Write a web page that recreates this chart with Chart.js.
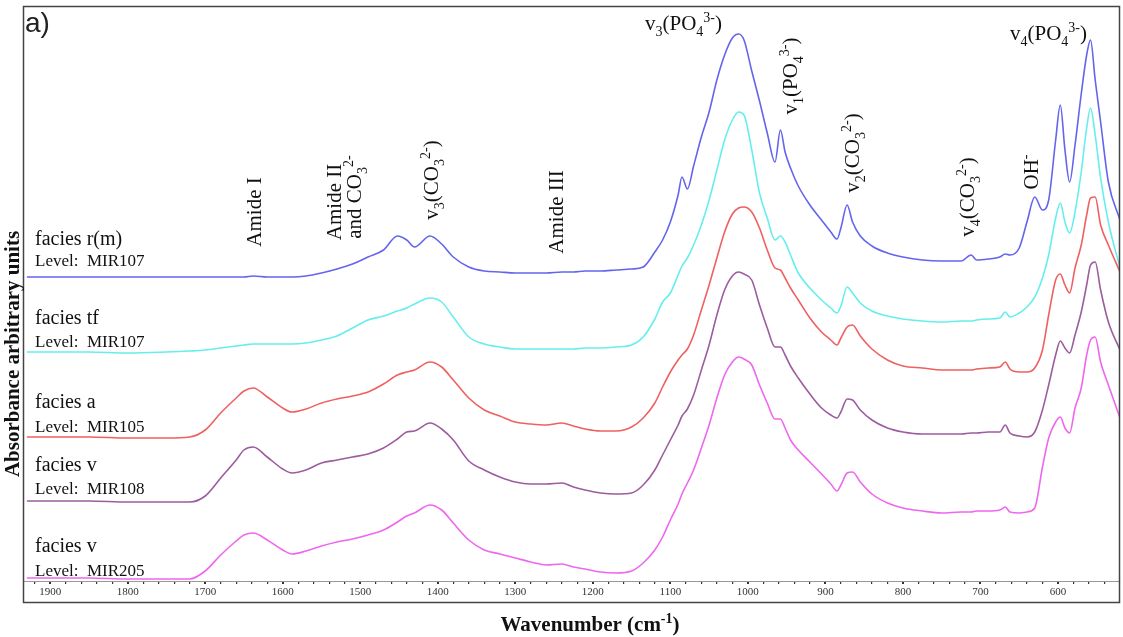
<!DOCTYPE html>
<html>
<head>
<meta charset="utf-8">
<script src="https://cdn.jsdelivr.net/npm/chart.js@4.4.0/dist/chart.umd.min.js"></script>
<style>
  html, body { margin: 0; padding: 0; background: #fff; }
  #wrap { width: 1123px; height: 637px; }
</style>
</head>
<body>
<div id="wrap"><canvas id="chart" width="1123" height="637"></canvas></div>
<script>
// ---------- data (absorbance, arbitrary units, stacked as in the figure) ----------
const wavenumbers = [
  1930, 1900, 1850, 1800, 1750, 1720, 1700, 1680, 1660, 1650,
  1638, 1620, 1600, 1588, 1570, 1550, 1530, 1510, 1490, 1470,
  1452, 1440, 1430, 1410, 1395, 1380, 1360, 1340, 1320, 1300,
  1280, 1260, 1240, 1225, 1210, 1190, 1170, 1150, 1135, 1120,
  1110, 1100, 1090, 1085, 1078, 1070, 1060, 1050, 1040, 1030,
  1020, 1012, 1005, 995, 985, 975, 965, 958, 952, 945,
  935, 920, 905, 893, 885, 880, 872, 865, 855, 840,
  820, 800, 775, 750, 725, 712, 705, 690, 675, 668,
  662, 650, 640, 630, 620, 612, 603, 597, 591, 585,
  578, 570, 563, 558, 552, 545, 535, 520
];

const faciesRm_MIR107 = [
  304, 304, 304, 304, 304, 304, 304, 304, 304, 304,
  305, 304, 304, 304, 305, 308, 312, 317, 324, 331,
  345, 341, 334, 345, 337, 324, 314, 310, 309, 308,
  308, 308, 309, 309, 310, 310, 311, 312, 314, 329,
  341, 359, 386, 404, 392, 415, 444, 469, 501, 526,
  543, 547, 541, 510, 480, 448, 419, 451, 429, 413,
  395, 376, 361, 349, 342, 353, 376, 359, 345, 335,
  328, 324, 321, 320, 320, 326, 321, 322, 324, 327,
  326, 333, 359, 384, 371, 381, 441, 476, 431, 399,
  436, 487, 526, 541, 501, 459, 399, 361
];

const faciesTf_MIR107 = [
  229, 229, 229, 228, 229, 230, 231, 233, 235, 236,
  237, 237, 237, 237, 238, 241, 245, 253, 261, 265,
  270, 273, 277, 283, 279, 264, 244, 237, 234, 232,
  232, 232, 232, 232, 233, 233, 234, 236, 244, 262,
  279, 288, 306, 315, 323, 336, 356, 381, 411, 441,
  461, 469, 466, 431, 388, 363, 341, 345, 339, 326,
  308, 293, 281, 273, 268, 275, 294, 288, 278, 270,
  265, 262, 260, 259, 260, 260, 261, 262, 263, 269,
  264, 268, 274, 284, 303, 326, 363, 378, 359, 348,
  369, 409, 453, 473, 446, 403, 359, 313
];

const faciesA_MIR105 = [
  144, 144, 144, 143, 143, 144, 151, 168, 183, 190,
  193, 184, 173, 169, 172, 178, 182, 185, 189, 197,
  206, 209, 211, 219, 214, 201, 183, 171, 165, 159,
  157, 156, 158, 155, 152, 150, 150, 154, 163, 178,
  194, 209, 221, 226, 232, 246, 271, 296, 323, 349,
  367, 373, 374, 369, 353, 331, 313, 311, 303, 293,
  281, 263, 249, 241, 236, 243, 254, 256, 245, 232,
  221, 215, 213, 211, 211, 211, 212, 213, 214, 219,
  212, 209, 209, 213, 231, 266, 301, 307, 296, 288,
  313, 336, 366, 383, 384, 356, 336, 309
];

const faciesV_MIR108 = [
  80, 80, 80, 79, 79, 79, 85, 103, 121, 131,
  134, 124, 112, 108, 111, 118, 121, 124, 127, 133,
  142, 149, 150, 158, 152, 141, 120, 111, 104, 99,
  97, 97, 98, 94, 91, 88, 87, 88, 96, 111,
  126, 141, 156, 165, 172, 186, 211, 236, 266, 291,
  305, 309, 307, 301, 276, 253, 234, 234, 226, 215,
  203, 187, 173, 166, 163, 169, 182, 181, 171, 161,
  153, 149, 147, 147, 147, 148, 148, 149, 149, 156,
  148, 145, 144, 149, 171, 196, 226, 240, 233, 228,
  246, 269, 296, 316, 319, 291, 259, 231
];

const faciesV_MIR205 = [
  3, 3, 3, 2, 2, 2, 10, 26, 40, 46,
  48, 41, 31, 27, 30, 35, 39, 42, 46, 51,
  59, 65, 68, 76, 71, 58, 41, 31, 27, 23,
  19, 16, 17, 14, 12, 9, 8, 10, 18, 31,
  44, 61, 77, 87, 98, 111, 133, 156, 183, 206,
  219, 224, 222, 216, 196, 178, 162, 162, 153, 141,
  131, 119, 107, 97, 90, 96, 108, 109, 99, 87,
  78, 73, 70, 68, 69, 69, 70, 70, 71, 74,
  69, 68, 69, 73, 114, 143, 159, 164, 153, 148,
  173, 193, 226, 241, 244, 219, 196, 163
];

const seriesNames = ['facies r(m)', 'facies tf', 'facies a', 'facies v', 'facies v'];
const seriesLevels = ['Level:  MIR107', 'Level:  MIR107', 'Level:  MIR105', 'Level:  MIR108', 'Level:  MIR205'];
const seriesValues = [faciesRm_MIR107, faciesTf_MIR107, faciesA_MIR105, faciesV_MIR108, faciesV_MIR205];
const seriesColors = ['#6464ee', '#66eeee', '#ef6060', '#9c5c9e', '#ef66ef'];

// ---------- text placement ----------
const SERIF = '"Liberation Serif", "Times New Roman", serif';
const SANS = '"Liberation Sans", Arial, sans-serif';

const nameLabelPos = [[35, 245, 266], [35, 324, 347], [35, 408, 432], [35, 471, 494], [35, 552, 576]];

const bandLabels = [
  { parts: [['Amide I']], x: 261, y: 212, rot: true },
  { parts: [['Amide II']], x: 341, y: 202, rot: true },
  { parts: [['and CO'], ['3', 'sub'], ['2-', 'sup']], x: 361, y: 197, rot: true },
  { parts: [['v'], ['3', 'sub'], ['(CO'], ['3', 'sub'], ['2-', 'sup'], [')']], x: 438, y: 180, rot: true },
  { parts: [['Amide III']], x: 563, y: 212, rot: true },
  { parts: [['v'], ['3', 'sub'], ['(PO'], ['4', 'sub'], ['3-', 'sup'], [')']], x: 645, y: 30, rot: false },
  { parts: [['v'], ['1', 'sub'], ['(PO'], ['4', 'sub'], ['3-', 'sup'], [')']], x: 797, y: 76, rot: true },
  { parts: [['v'], ['2', 'sub'], ['(CO'], ['3', 'sub'], ['2-', 'sup'], [')']], x: 859, y: 153, rot: true },
  { parts: [['v'], ['4', 'sub'], ['(CO'], ['3', 'sub'], ['2-', 'sup'], [')']], x: 974, y: 197, rot: true },
  { parts: [['OH'], ['-', 'sup']], x: 1038, y: 172, rot: true },
  { parts: [['v'], ['4', 'sub'], ['(PO'], ['4', 'sub'], ['3-', 'sup'], [')']], x: 1010, y: 40, rot: false }
];

function drawRich(ctx, parts, x, y, size, weight, align) {
  const fonts = parts.map(p => weight + ' ' + (p[1] ? Math.round(size * 0.65) : size) + 'px ' + SERIF);
  let w = 0;
  parts.forEach((p, i) => { ctx.font = fonts[i]; w += ctx.measureText(p[0]).width; });
  let cx = align === 'center' ? x - w / 2 : x;
  parts.forEach((p, i) => {
    ctx.font = fonts[i];
    const dy = p[1] === 'sub' ? size * 0.28 : p[1] === 'sup' ? -size * 0.4 : 0;
    ctx.fillText(p[0], cx, y + dy);
    cx += ctx.measureText(p[0]).width;
  });
}

const decorations = {
  id: 'decorations',
  afterDraw(chart) {
    const ctx = chart.ctx;
    const area = chart.chartArea;
    ctx.save();
    ctx.textAlign = 'left';
    ctx.textBaseline = 'alphabetic';
    ctx.fillStyle = '#111';

    // frame round the plot
    ctx.strokeStyle = '#444';
    ctx.lineWidth = 1.5;
    ctx.strokeRect(area.left + 0.5, 6.5, area.right - area.left - 1, 596);

    // panel letter
    ctx.font = '28px ' + SANS;
    ctx.fillStyle = '#222';
    ctx.fillText('a)', 25, 32);
    ctx.fillStyle = '#111';

    // sample names
    nameLabelPos.forEach((p, i) => {
      ctx.font = '20px ' + SERIF;
      ctx.fillText(seriesNames[i], p[0], p[1]);
      ctx.font = '17px ' + SERIF;
      ctx.fillText(seriesLevels[i], p[0], p[2]);
    });

    // band assignments
    bandLabels.forEach(l => {
      if (l.rot) {
        ctx.save();
        ctx.translate(l.x, l.y);
        ctx.rotate(-Math.PI / 2);
        drawRich(ctx, l.parts, 0, 0, 21, '', 'center');
        ctx.restore();
      } else {
        drawRich(ctx, l.parts, l.x, l.y, 21, '', 'left');
      }
    });

    // axis titles
    drawRich(ctx, [['Wavenumber (cm'], ['-1', 'sup'], [')']], 590, 631, 21, 'bold', 'center');
    ctx.save();
    ctx.translate(19, 354);
    ctx.rotate(-Math.PI / 2);
    drawRich(ctx, [['Absorbance arbitrary units']], 0, 0, 21, 'bold', 'center');
    ctx.restore();
    ctx.restore();
  }
};

const datasets = seriesValues.map((vals, i) => ({
  label: seriesNames[i] + ' ' + seriesLevels[i],
  data: wavenumbers.map((w, j) => ({ x: w, y: vals[j] })),
  borderColor: seriesColors[i],
  borderWidth: 1.6,
  pointRadius: 0,
  fill: false,
  cubicInterpolationMode: 'monotone'
}));

new Chart(document.getElementById('chart'), {
  type: 'line',
  data: { datasets },
  options: {
    responsive: false,
    animation: false,
    devicePixelRatio: 1,
    layout: { padding: { left: 23, right: 3, top: 6, bottom: 0 } },
    plugins: { legend: { display: false }, tooltip: { enabled: false } },
    scales: {
      x: {
        type: 'linear',
        reverse: true,
        min: 520,
        max: 1935,
        afterBuildTicks: s => {
          const t = [];
          for (let v = 1920; v >= 540; v -= 20) t.push({ value: v });
          s.ticks = t;
        },
        afterFit: s => { s.height = 56; },
        ticks: {
          autoSkip: false,
          maxRotation: 0,
          padding: 2,
          color: '#333',
          font: { family: SERIF, size: 11 },
          callback: v => (v % 100 === 0 ? String(v) : '')
        },
        grid: {
          drawOnChartArea: false,
          drawTicks: true,
          tickLength: 3,
          color: '#333',
          lineWidth: c => (c.tick && c.tick.value % 100 === 0 ? 2 : 1.2)
        },
        border: { display: true, color: '#999', width: 1 }
      },
      y: {
        display: false,
        min: 0,
        max: 575
      }
    }
  },
  plugins: [decorations]
});
</script>
</body>
</html>
